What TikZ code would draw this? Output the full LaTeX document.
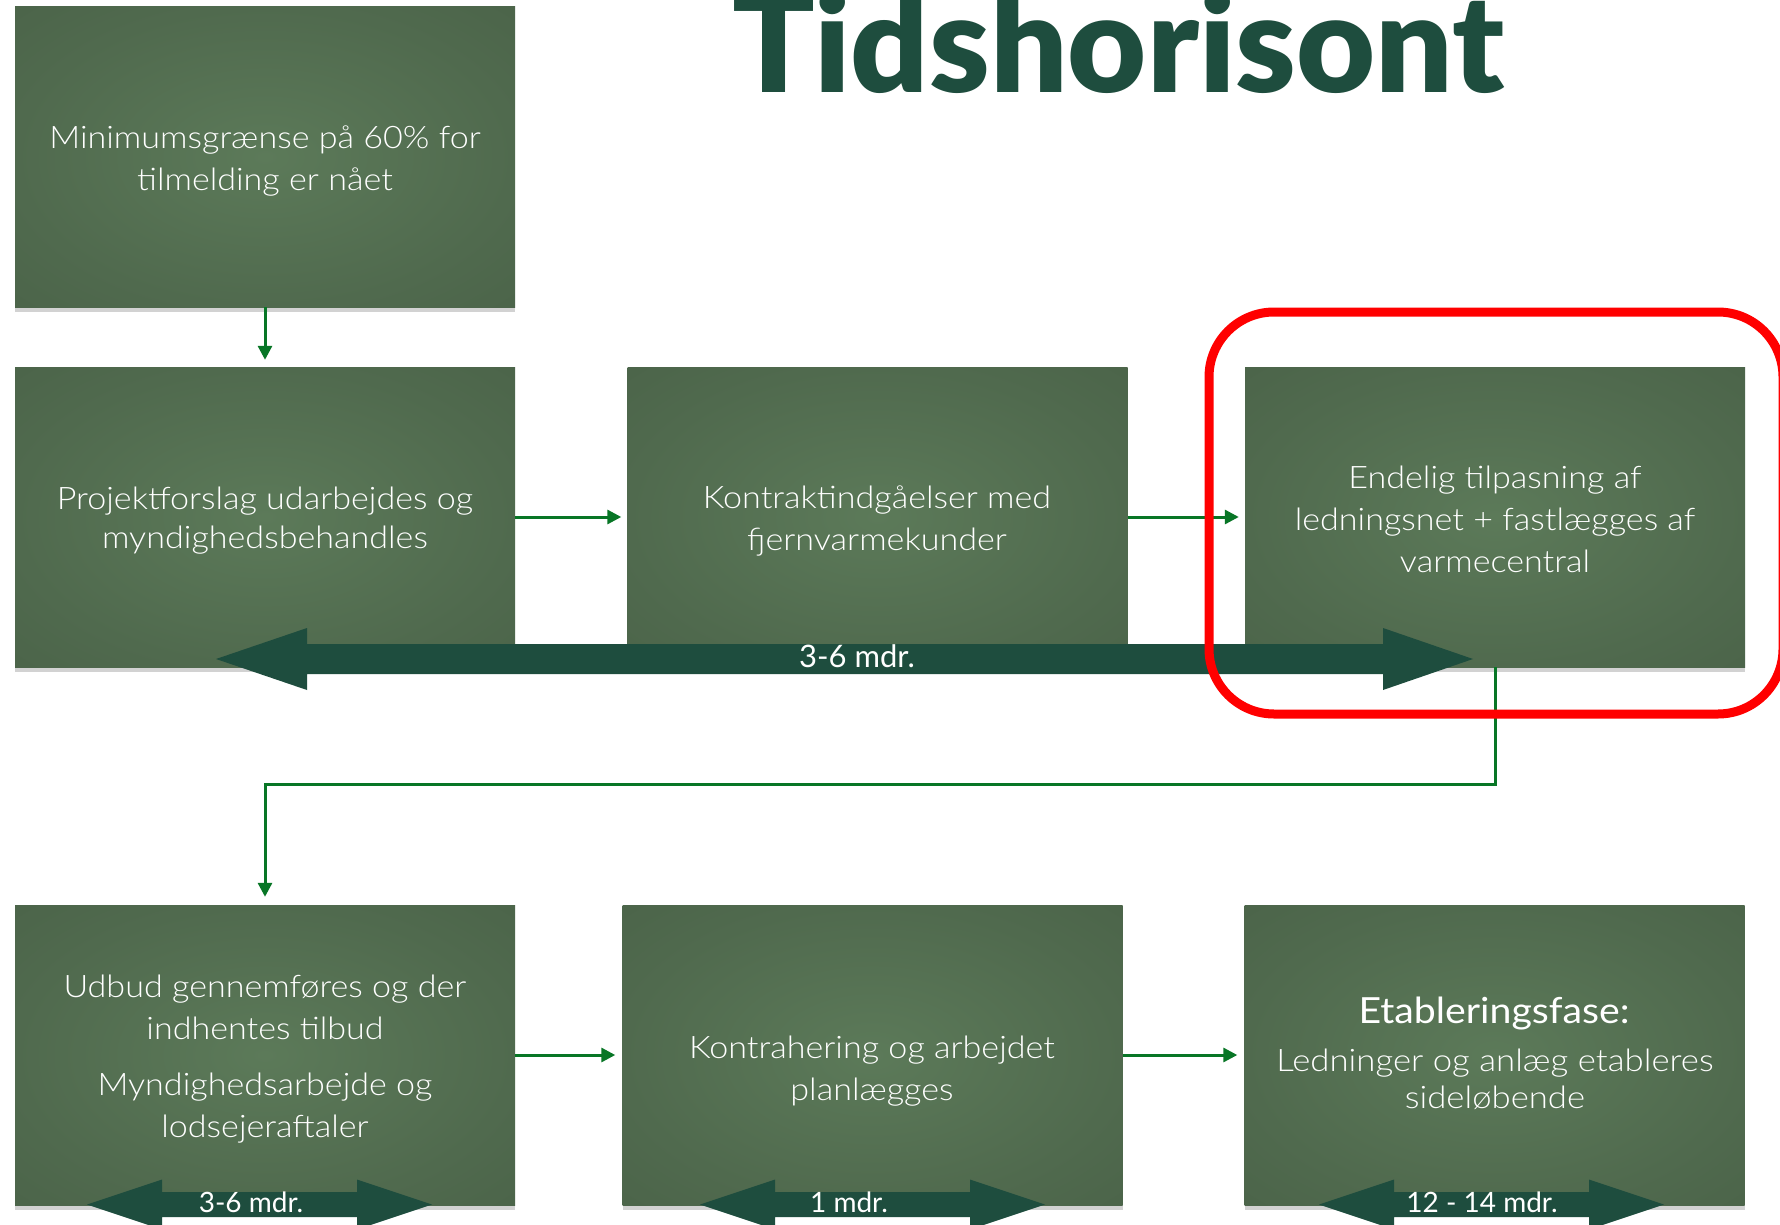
\documentclass[tikz,border=0pt]{standalone}
\usepackage{fontspec}
\newfontfamily\lightfont{Lato Light}[FakeStretch=1.1]
\newfontfamily\lightwide{Lato Light}[FakeStretch=1.12]
\newfontfamily\regfont{Lato}
\newfontfamily\regwide{Lato}[FakeStretch=1.09]
\newfontfamily\titlefont{Lato Black}
\usetikzlibrary{shadows,arrows.meta}
\definecolor{connc}{RGB}{8,118,38}
\definecolor{dkg}{RGB}{30,77,62}
\definecolor{boxin}{RGB}{92,122,89}
\definecolor{boxmid}{RGB}{80,106,78}
\definecolor{boxout}{RGB}{70,93,68}
\definecolor{boxcorner}{RGB}{64,85,63}
\definecolor{hlred}{RGB}{255,0,0}
\pgfdeclareradialshading{boxshade}{\pgfpointorigin}{color(0bp)=(boxin); color(25bp)=(boxmid); color(50bp)=(boxout); color(72bp)=(boxcorner)}
\newcommand\mydblarrow[7]{% lefttip, leftbase, rightbase, righttip, cy, headhalf, shafthalf
  \fill[dkg] (#1,#5) -- (#2,#5-#6) -- (#2,#5-#7) -- (#3,#5-#7) -- (#3,#5-#6) -- (#4,#5)
    -- (#3,#5+#6) -- (#3,#5+#7) -- (#2,#5+#7) -- (#2,#5+#6) -- cycle;}
\begin{document}
\begin{tikzpicture}[x=1pt,y=-1pt,
  box/.style={rectangle, minimum width=500pt, minimum height=300pt, inner sep=0pt,
    shading=boxshade, drop shadow={shadow xshift=0pt, shadow yshift=-5pt, opacity=0.35}},
  txt/.style={text=white, font=\lightfont\fontsize{31}{42}\selectfont, align=center, inner sep=0pt},
  conn/.style={draw=connc, line width=3pt, -{Triangle[length=14pt,width=14pt]}},
  lab/.style={text=white, font=\regfont\fontsize{28}{28}\selectfont, inner sep=0pt}]
\useasboundingbox (0,0) rectangle (1780,1225);
\clip (0,0) rectangle (1780,1225);
\fill[white] (0,0) rectangle (1780,1225);

% title
\node[anchor=base west, inner sep=0pt, text=dkg] (title) at (732,93)
  {\resizebox{772pt}{!}{\titlefont Tidshorisont}};

% boxes
\node[box] (b1) at (265,157) {};
\node[box] (b2) at (265,517) {};
\node[box] (b3) at (877.5,517) {};
\node[box] (b4) at (1495,517) {};
\node[box] (b5) at (265,1055) {};
\node[box] (b6) at (872.5,1055) {};
\node[box] (b7) at (1494.5,1055) {};

% texts
\node[txt] (t1) at (265,161) {Minimumsgrænse på 60\% for\\tilmelding er nået};
\node[txt, font=\lightfont\fontsize{31}{39}\selectfont] (t2) at (265,521) {Projektforslag udarbejdes og\\myndighedsbehandles};
\node[txt] (t3) at (877,521) {Kontraktindgåelser med\\fjernvarmekunder};
\node[txt] (t4) at (1495,519) {Endelig tilpasning af\\ledningsnet + fastlægges af\\varmecentral};
\node[txt] (t5) at (265,1059) {Udbud gennemføres og der\\indhentes tilbud\\[14pt]Myndighedsarbejde og\\lodsejeraftaler};
\node[txt] (t6) at (872,1071) {Kontrahering og arbejdet\\planlægges};
\node[text=white, font=\regwide\fontsize{36}{36}\selectfont, inner sep=0pt] (t7h) at (1494,1014) {Etableringsfase:};
\node[txt, font=\lightwide\fontsize{31}{37}\selectfont] (t7) at (1495,1079) {Ledninger og anlæg etableres\\sideløbende};

% connectors
\draw[conn, shorten >=7pt] (b1.south) -- (b2.north);
\draw[conn, shorten >=6pt] (b2.east) -- (b3.west);
\draw[conn, shorten >=6pt] (b3.east) -- (b4.west);
\draw[conn, shorten >=8pt] (b4.south) -- ++(0,117) -| (b5.north);
\draw[conn, shorten >=7pt] (b5.east) -- (b6.west);
\draw[conn, shorten >=7pt] (b6.east) -- (b7.west);

% duration arrows
\mydblarrow{216}{307}{1383}{1473}{659}{31}{15}
\node[lab, font=\regfont\fontsize{31}{31}\selectfont] (d1) at (857,656) {3-6 mdr.};
\mydblarrow{87}{162}{357}{432}{1204.5}{25}{12.5}
\node[lab] (d2) at (251,1202) {3-6 mdr.};
\mydblarrow{700}{775}{970}{1045}{1204.5}{25}{12.5}
\node[lab] (d3) at (849,1202) {1 mdr.};
\mydblarrow{1319}{1394}{1589}{1664}{1204.5}{25}{12.5}
\node[lab] (d4) at (1482,1202) {12 - 14 mdr.};

% highlight
\draw[hlred, line width=9pt, rounded corners=65pt] (1209,312) rectangle (1783,714);
\end{tikzpicture}
\end{document}
